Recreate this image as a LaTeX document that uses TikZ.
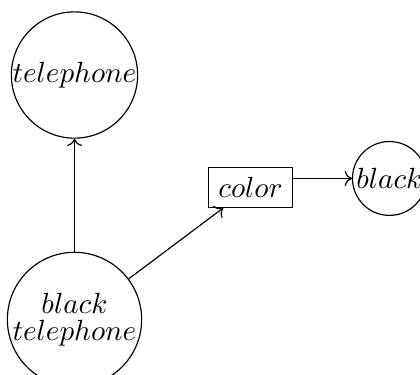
\documentclass[tikz,border=0pt]{standalone}
\usepackage{tikz}
\usetikzlibrary{positioning, arrows.meta}

\begin{document}
\begin{tikzpicture}[
    x=0.3425pt, y=-0.3425pt,
    node distance=38.7pt and 20.2pt,
    concept/.style={circle, draw, inner sep=0pt, align=center},
    big/.style={concept, minimum size=43.2pt},
    small/.style={concept, minimum size=25.3pt},
    relation/.style={draw, rectangle},
    arr/.style={->}
  ]
    \useasboundingbox (0,0) rectangle (420,374);
    \node[big] (tel) at (74.5,75) {$telephone$};
    \node[big, below=of tel] (blacktel) {$black$\\[-2.8pt]$telephone$};
    \node[relation] (color) at (250.5,187.5) {$color$};
    \node[small, right=of color, yshift=3.1pt] (black) {$black$};

    \draw[arr] (blacktel) -- (tel);
    \draw[arr] (blacktel) -- (color);
    \draw[arr] (color.east |- black) -- (black);
\end{tikzpicture}
\end{document}
